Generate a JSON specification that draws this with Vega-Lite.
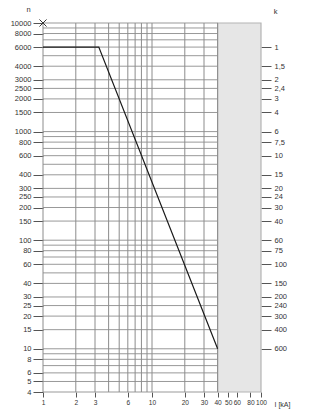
{
  "$schema": "https://vega.github.io/schema/vega-lite/v6.json",
  "width": 218,
  "height": 369,
  "autosize": {"type": "none"},
  "padding": {"left": 43, "top": 23, "right": 54, "bottom": 25},
  "background": "white",
  "config": {
    "view": {"stroke": null},
    "axis": {
      "labelFont": "Liberation Sans",
      "titleFont": "Liberation Sans",
      "labelFontSize": 7.5,
      "titleFontSize": 7.5,
      "titleFontWeight": "normal",
      "labelColor": "#333333",
      "titleColor": "#333333",
      "tickColor": "#555555",
      "domain": false,
      "grid": false
    }
  },
  "datasets": {
    "hlines": [
      {"n": 10000}, {"n": 9000}, {"n": 8000}, {"n": 7000}, {"n": 6000}, {"n": 5000}, {"n": 4000}, {"n": 3000}, {"n": 2500}, {"n": 2000}, {"n": 1500},
      {"n": 1000}, {"n": 900}, {"n": 800}, {"n": 700}, {"n": 600}, {"n": 500}, {"n": 400}, {"n": 300}, {"n": 250}, {"n": 200}, {"n": 150},
      {"n": 100}, {"n": 90}, {"n": 80}, {"n": 70}, {"n": 60}, {"n": 50}, {"n": 40}, {"n": 30}, {"n": 25}, {"n": 20}, {"n": 15},
      {"n": 10}, {"n": 9}, {"n": 8}, {"n": 7}, {"n": 6}, {"n": 5}, {"n": 4}
    ],
    "vlines": [
      {"I": 1}, {"I": 2}, {"I": 3}, {"I": 4}, {"I": 5}, {"I": 6}, {"I": 7}, {"I": 8}, {"I": 9}, {"I": 10}, {"I": 20}, {"I": 30}, {"I": 40}
    ],
    "zone": [{"I0": 40, "I1": 100, "n0": 4, "n1": 10000}],
    "curve": [{"I": 1, "n": 6000}, {"I": 3.25, "n": 6000}, {"I": 40, "n": 10}],
    "marker": [{"I": 1, "n": 10000}],
    "kticks": [
      {"k": 1}, {"k": 1.5}, {"k": 2}, {"k": 2.4}, {"k": 3}, {"k": 4}, {"k": 6}, {"k": 7.5}, {"k": 10}, {"k": 15}, {"k": 20}, {"k": 24},
      {"k": 30}, {"k": 40}, {"k": 60}, {"k": 75}, {"k": 100}, {"k": 150}, {"k": 200}, {"k": 240}, {"k": 300}, {"k": 400}, {"k": 600}
    ]
  },
  "layer": [
    {
      "encoding": {
        "x": {
          "type": "quantitative",
          "scale": {"type": "log", "domain": [1, 100], "nice": false},
          "axis": {
            "orient": "bottom",
            "values": [1, 2, 3, 6, 10, 20, 30, 40, 50, 60, 80, 100],
            "format": "d",
            "tickSize": 5,
            "labelPadding": 2,
            "labelFontSize": 6.6,
            "labelFlush": false,
            "labelOverlap": false,
            "title": "I [kA]",
            "titleFontSize": 7,
            "titleAlign": "left",
            "titleBaseline": "middle",
            "titleX": 231,
            "titleY": 12
          }
        },
        "y": {
          "type": "quantitative",
          "scale": {"type": "log", "domain": [4, 10000], "nice": false},
          "axis": {
            "orient": "left",
            "values": [10000, 8000, 6000, 4000, 3000, 2500, 2000, 1500, 1000, 800, 600, 400, 300, 250, 200, 150, 100, 80, 60, 40, 30, 25, 20, 15, 10, 8, 6, 5, 4],
            "format": "d",
            "tickSize": 10,
            "labelPadding": 2,
            "labelFlush": false,
            "labelOverlap": false,
            "title": "n",
            "titleAngle": 0,
            "titleAlign": "center",
            "titleBaseline": "middle",
            "titleX": -15,
            "titleY": -14
          }
        }
      },
      "layer": [
        {
          "data": {"name": "zone"},
          "mark": {"type": "rect", "fill": "#e6e6e6", "stroke": "#b4b4b4", "strokeWidth": 1.2},
          "encoding": {
            "x": {"field": "I0"},
            "x2": {"field": "I1"},
            "y": {"field": "n0"},
            "y2": {"field": "n1"}
          }
        },
        {
          "data": {"name": "hlines"},
          "mark": {"type": "rule", "stroke": "#999999", "strokeWidth": 1},
          "encoding": {
            "y": {"field": "n"},
            "x": {"datum": 1},
            "x2": {"datum": 40}
          }
        },
        {
          "data": {"name": "vlines"},
          "mark": {"type": "rule", "stroke": "#8c8c8c", "strokeWidth": 1},
          "encoding": {
            "x": {"field": "I"},
            "y": {"datum": 4},
            "y2": {"datum": 10000}
          }
        },
        {
          "data": {"name": "curve"},
          "mark": {"type": "line", "stroke": "#1a1a1a", "strokeWidth": 1.2},
          "encoding": {
            "x": {"field": "I"},
            "y": {"field": "n"}
          }
        },
        {
          "data": {"name": "marker"},
          "mark": {"type": "point", "shape": "M-1,-1L1,1M-1,1L1,-1", "filled": false, "stroke": "#333333", "strokeWidth": 1, "size": 50, "opacity": 1},
          "encoding": {
            "x": {"field": "I"},
            "y": {"field": "n"}
          }
        }
      ]
    },
    {
      "data": {"name": "kticks"},
      "mark": {"type": "point", "opacity": 0},
      "encoding": {
        "y": {
          "field": "k", "type": "quantitative",
          "scale": {"type": "log", "domain": [0.6, 1500], "reverse": true, "nice": false},
          "axis": {
            "orient": "right",
            "values": [1, 1.5, 2, 2.4, 3, 4, 6, 7.5, 10, 15, 20, 24, 30, 40, 60, 75, 100, 150, 200, 240, 300, 400, 600],
            "labelExpr": "replace(format(datum.value, '~g'), '.', ',')",
            "tickSize": 10,
            "labelPadding": 3,
            "labelFlush": false,
            "labelOverlap": false,
            "title": "k",
            "titleAngle": 0,
            "titleAlign": "center",
            "titleBaseline": "middle",
            "titleX": 14,
            "titleY": -12
          }
        }
      }
    }
  ],
  "resolve": {"scale": {"y": "independent"}}
}
